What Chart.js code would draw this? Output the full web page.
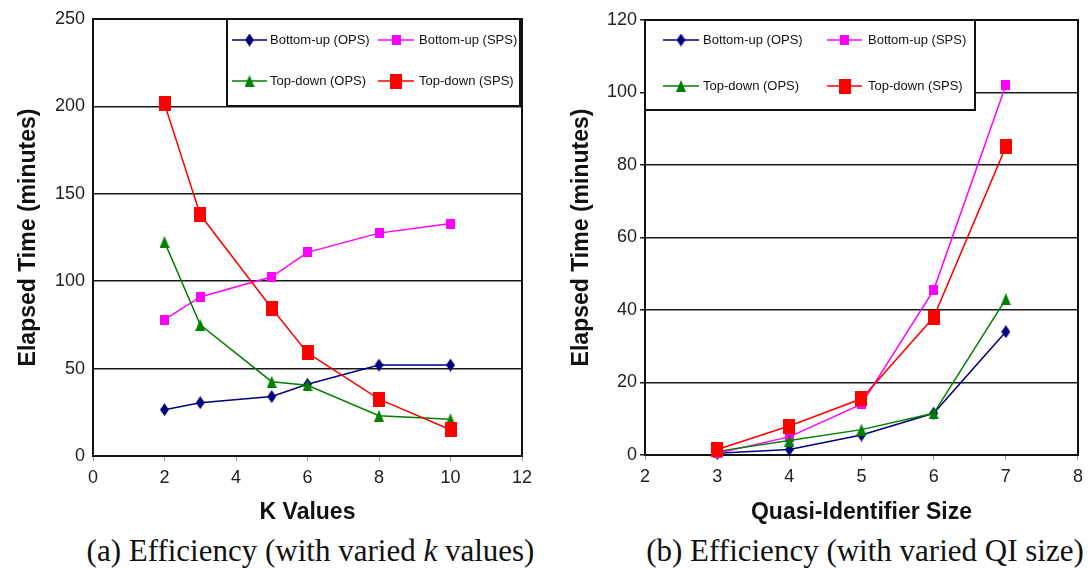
<!DOCTYPE html>
<html>
<head>
<meta charset="utf-8">
<script src="https://cdn.jsdelivr.net/npm/chart.js@4.4.0/dist/chart.umd.min.js"></script>
<style>
  body { margin: 0; background: #fff; width: 1089px; height: 568px; overflow: hidden; position: relative; }
  canvas { position: absolute; top: 0; }
  #cLeft { left: 0; }
  #cRight { left: 545px; }
  .caption { position: absolute; top: 533px; font-family: "Liberation Serif", "DejaVu Serif", serif; font-size: 31px; line-height: 36px; text-align: center; color: #111; white-space: nowrap; }
</style>
</head>
<body>
<canvas id="cLeft" width="545" height="530"></canvas>
<canvas id="cRight" width="544" height="530"></canvas>
<div class="caption" style="left:0; width:621px;">(a) Efficiency (with varied <i>k</i> values)</div>
<div class="caption" style="left:545px; width:640px;">(b) Efficiency (with varied QI size)</div>
<script>
// donnees
const seriesNames = ["Bottom-up (OPS)", "Bottom-up (SPS)", "Top-down (OPS)", "Top-down (SPS)"];

// (a) temps selon k
const kValues = [2, 3, 5, 6, 8, 10];
const kBottomUpOPS = [26.5, 30.5, 34, 41, 52, 52];
const kBottomUpSPS = [78, 91, 102.5, 116.5, 127.5, 133];
const kTopDownOPS = [122.5, 75, 42.5, 40.5, 23, 21];
const kTopDownSPS = [201.5, 138, 84.5, 59, 32.5, 15];

// (b) temps selon la taille du QI
const qiSizes = [3, 4, 5, 6, 7];
const qiBottomUpOPS = [0.5, 1.5, 5.5, 11.5, 34];
const qiBottomUpSPS = [0.5, 5, 14, 45.5, 102];
const qiTopDownOPS = [1, 4, 7, 11.5, 43];
const qiTopDownSPS = [1.5, 8, 15.5, 38, 85];

// marqueurs dessines a la main (le diamant est etroit, les carres un peu hauts)
function makeMarker(shape, color, w, h) {
  const c = document.createElement('canvas');
  c.width = w; c.height = h;
  const g = c.getContext('2d');
  g.fillStyle = color;
  g.beginPath();
  if (shape == "diamond") {
    g.moveTo(w / 2, 0); g.lineTo(w, h / 2); g.lineTo(w / 2, h); g.lineTo(0, h / 2);
  } else if (shape == "triangle") {
    g.moveTo(w / 2, 0); g.lineTo(w, h); g.lineTo(0, h);
  } else {
    g.rect(0, 0, w, h);
  }
  g.closePath();
  g.fill();
  return c;
}

const colors = ["#000080", "#ff00ff", "#008000", "#ff0000"];
const markers = [
  makeMarker("diamond", colors[0], 9, 13),
  makeMarker("square", colors[1], 9, 10),
  makeMarker("triangle", colors[2], 10, 12),
  makeMarker("square", colors[3], 12, 15)
];
const drawOrder = [3, 2, 1, 0];

function buildDatasets(xs, lists) {
  return lists.map((vals, i) => ({
    label: seriesNames[i],
    data: xs.map((x, j) => ({ x: x, y: vals[j] })),
    borderColor: colors[i],
    backgroundColor: colors[i],
    borderWidth: 1.5,
    pointStyle: markers[i],
    tension: 0,
    clip: false,
    order: drawOrder[i]
  }));
}

// cadre noir autour de la zone + legende en boite 2x2
const framePlugin = {
  id: 'frameLegend',
  beforeDatasetsDraw(chart) {
    const ctx = chart.ctx;
    const a = chart.chartArea;
    const opt = chart.options.plugins.frameLegend;
    ctx.save();
    // legende
    const L = opt.box;
    ctx.fillStyle = '#fff';
    ctx.fillRect(L.x, L.y, L.w, L.h);
    ctx.strokeStyle = '#111';
    ctx.lineWidth = 2;
    ctx.strokeRect(L.x, L.y, L.w, L.h);
    ctx.font = '13px "Liberation Sans", Arial, sans-serif';
    ctx.textBaseline = 'middle';
    ctx.fillStyle = '#111';
    for (let i = 0; i < seriesNames.length; i++) {
      const col = opt.cols[i % 2];
      const y = opt.rows[Math.floor(i / 2)];
      ctx.strokeStyle = colors[i];
      ctx.lineWidth = 1.5;
      ctx.beginPath();
      ctx.moveTo(col.x1, y); ctx.lineTo(col.x2, y);
      ctx.stroke();
      const m = markers[i];
      ctx.drawImage(m, (col.x1 + col.x2) / 2 - m.width / 2, y - m.height / 2);
      ctx.fillText(seriesNames[i], col.tx, y);
    }
    // cadre
    ctx.strokeStyle = '#111';
    ctx.lineWidth = 2;
    ctx.strokeRect(a.left, a.top, a.right - a.left, a.bottom - a.top);
    ctx.restore();
  }
};

function createChart(id, cfg) {
  return new Chart(document.getElementById(id), {
    type: 'line',
    data: { datasets: cfg.datasets },
    plugins: [framePlugin],
    options: {
      responsive: false,
      animation: false,
      layout: { padding: { left: 0, right: cfg.padRight, top: cfg.padTop, bottom: 0 } },
      plugins: {
        legend: { display: false },
        tooltip: { enabled: false },
        frameLegend: { box: cfg.box, cols: cfg.cols, rows: cfg.rows }
      },
      scales: {
        x: {
          type: 'linear',
          min: cfg.xMin, max: cfg.xMax,
          afterFit: (s) => { s.height = cfg.xHeight; },
          ticks: { stepSize: cfg.xStep, color: '#222', padding: 6, font: { family: '"Liberation Sans", Arial, sans-serif', size: 18 } },
          grid: { drawOnChartArea: false, drawTicks: true, tickLength: 5, color: '#999', lineWidth: 1 },
          border: { display: false },
          title: { display: true, text: cfg.xTitle, color: '#111', padding: { top: 0, bottom: 4 },
            font: { family: '"Liberation Sans", Arial, sans-serif', size: 23, weight: 'bold' } }
        },
        y: {
          min: 0, max: cfg.yMax,
          afterFit: (s) => { s.width = cfg.yWidth; },
          ticks: { stepSize: cfg.yStep, color: '#222', padding: cfg.yTickPad, font: { family: '"Liberation Sans", Arial, sans-serif', size: 18 } },
          grid: { color: '#1a1a1a', lineWidth: 1.5, drawTicks: cfg.yDrawTicks, tickLength: 5 },
          border: { display: false },
          title: { display: true, text: 'Elapsed Time (minutes)', color: '#111', padding: { top: cfg.yTitlePad, bottom: 0 },
            font: { family: '"Liberation Sans", Arial, sans-serif', size: 23, weight: 'bold' } }
        }
      }
    }
  });
}

createChart('cLeft', {
  datasets: buildDatasets(kValues, [kBottomUpOPS, kBottomUpSPS, kTopDownOPS, kTopDownSPS]),
  xMin: 0, xMax: 12, xStep: 2, xTitle: 'K Values',
  yMax: 250, yStep: 50,
  padRight: 23, padTop: 19, xHeight: 74, yWidth: 93, yTickPad: 8, yDrawTicks: false, yTitlePad: 15,
  box: { x: 227, y: 19, w: 293, h: 87 },
  cols: [{ x1: 232, x2: 267, tx: 270 }, { x1: 378, x2: 414, tx: 419 }],
  rows: [40, 81]
});

createChart('cRight', {
  datasets: buildDatasets(qiSizes, [qiBottomUpOPS, qiBottomUpSPS, qiTopDownOPS, qiTopDownSPS]),
  xMin: 2, xMax: 8, xStep: 1, xTitle: 'Quasi-Identifier Size',
  yMax: 120, yStep: 20,
  padRight: 10, padTop: 20, xHeight: 75, yWidth: 100, yTickPad: 3, yDrawTicks: true, yTitlePad: 23,
  box: { x: 100, y: 20, w: 330, h: 90 },
  cols: [{ x1: 118, x2: 154, tx: 158 }, { x1: 282, x2: 317, tx: 323 }],
  rows: [40, 86]
});
</script>
</body>
</html>
